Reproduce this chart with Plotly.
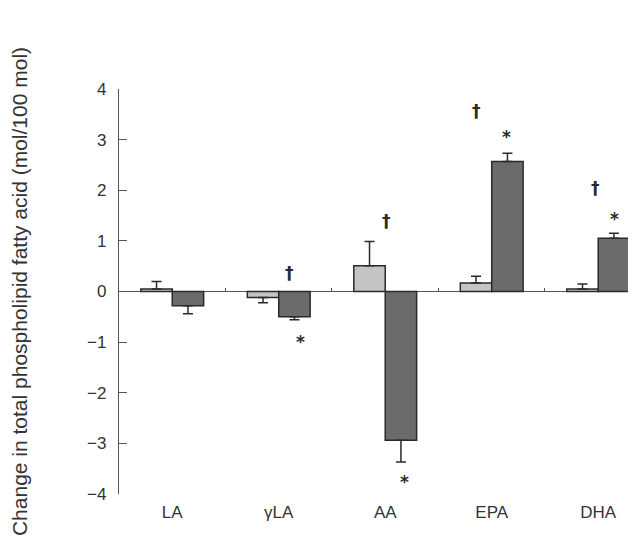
import plotly.graph_objects as go

categories = ["LA", "γLA", "AA", "EPA", "DHA"]
light_values = [0.05, -0.12, 0.51, 0.17, 0.05]
light_errors = [0.15, 0.10, 0.48, 0.13, 0.10]
dark_values = [-0.28, -0.50, -2.94, 2.57, 1.05]
dark_errors = [0.16, 0.06, 0.43, 0.16, 0.10]

# significance markers: category index, symbol, y value, x offset within group
sig_cat = [1, 1, 2, 2, 3, 3, 4, 4]
sig_sym = ["†", "*", "†", "*", "†", "*", "†", "*"]
sig_y = [0.36, -1.0, 1.40, -3.76, 3.56, 3.06, 2.05, 1.43]
sig_dx = [0.10, 0.20, 0.01, 0.18, -0.14, 0.14, -0.03, 0.15]

yticks = [-4, -3, -2, -1, 0, 1, 2, 3, 4]

x = list(range(len(categories)))

def one_sided(vals, errs):
    plus = [e if v >= 0 else 0 for v, e in zip(vals, errs)]
    minus = [e if v < 0 else 0 for v, e in zip(vals, errs)]
    return plus, minus

lp, lm = one_sided(light_values, light_errors)
dp, dm = one_sided(dark_values, dark_errors)

fig = go.Figure()
fig.add_trace(go.Bar(
    x=x, y=light_values, name="light",
    marker=dict(color="#c4c4c4", line=dict(color="#2a2a2a", width=1.5)),
    error_y=dict(type="data", symmetric=False, array=lp, arrayminus=lm,
                 color="#2a2a2a", thickness=1.5, width=5),
))
fig.add_trace(go.Bar(
    x=x, y=dark_values, name="dark",
    marker=dict(color="#6b6b6b", line=dict(color="#2a2a2a", width=1.5)),
    error_y=dict(type="data", symmetric=False, array=dp, arrayminus=dm,
                 color="#2a2a2a", thickness=1.5, width=5),
))

for c, s, yv, dx in zip(sig_cat, sig_sym, sig_y, sig_dx):
    fig.add_annotation(x=c + dx, y=yv, text="<b>" + s + "</b>", showarrow=False,
                       font=dict(family="DejaVu Sans", size=17,
                                 color="#2a2a2a"),
                       xanchor="center", yanchor="middle")

fig.update_layout(
    width=636, height=548,
    margin=dict(l=111, r=0, t=81, b=62),
    paper_bgcolor="white", plot_bgcolor="white",
    barmode="group", bargap=0.41, bargroupgap=0,
    showlegend=False,
    font=dict(family="Liberation Sans, Arial, sans-serif", size=17, color="#333333"),
    xaxis=dict(
        range=[-0.5, 4.43], tickmode="array", tickvals=x, ticktext=categories,
        showline=False, showgrid=False, zeroline=False, ticks="",
        tickfont=dict(size=17, color="#333333"), ticklabelstandoff=6,
    ),
    xaxis2=dict(
        overlaying="x", anchor="free", position=0.5, matches="x",
        tickmode="array", tickvals=[0.5, 1.5, 2.5, 3.5],
        showticklabels=False, ticks="inside", ticklen=4, tickwidth=1,
        tickcolor="#555555", showline=False, showgrid=False, zeroline=False,
    ),
    yaxis=dict(
        range=[-4, 4], tickmode="array", tickvals=yticks,
        ticktext=[("\u2212" + str(-t)) if t < 0 else str(t) for t in yticks],
        showline=True, linecolor="#555555", linewidth=1.2,
        ticks="inside", ticklen=8, tickwidth=1.2, tickcolor="#555555",
        showgrid=False, zeroline=True, zerolinecolor="#555555", zerolinewidth=1.2,
        tickfont=dict(size=17, color="#333333"), ticklabelstandoff=8,
        title=dict(text="Change in total phospholipid fatty acid (mol/100 mol)",
                   font=dict(size=21, color="#333333"), standoff=56),
    ),
)
# invisible trace to activate xaxis2
fig.add_trace(go.Scatter(x=[0], y=[0], xaxis="x2", mode="markers",
                         marker=dict(opacity=0), hoverinfo="skip", showlegend=False))

fig.write_html("out.html")
